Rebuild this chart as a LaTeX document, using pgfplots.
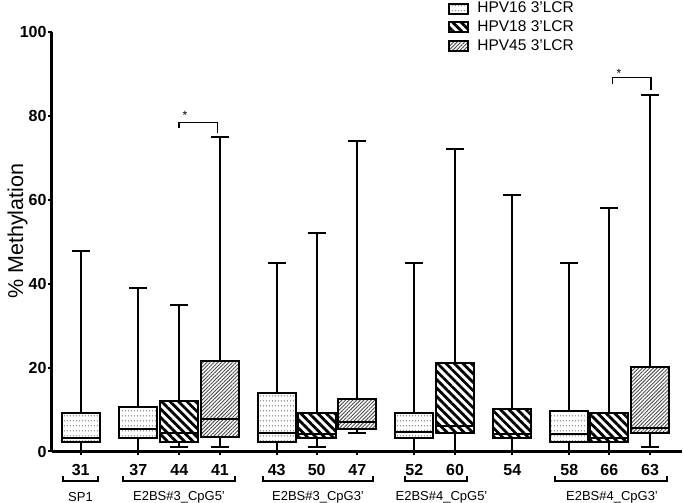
\documentclass[border=0pt]{standalone}
\usepackage{fontspec}
\setmainfont{Liberation Sans}
\usepackage{pgfplots}
\pgfplotsset{compat=1.18}
\usepgfplotslibrary{statistics}
\usetikzlibrary{patterns,patterns.meta}

\tikzdeclarepattern{
  name=hpvdots,
  type=uncolored,
  bounding box={(0pt,0pt) and (3.2pt,5pt)},
  tile size={(3.2pt,5pt)},
  code={\fill (1.6pt,2.5pt) circle (0.75pt);}
}

\pgfplotsset{
  hpv16/.style={draw=black, line width=2pt, pattern={hpvdots}, pattern color=black!60},
  hpv18/.style={draw=black, line width=2pt, pattern={Lines[angle=-45,distance=6pt,line width=2.8pt]}, pattern color=black},
  hpv45/.style={draw=black, line width=2pt, pattern={Lines[angle=45,distance=2.6pt,line width=0.9pt]}, pattern color=black!70},
  mylegend/.style={legend image code/.code={\draw[##1] (0pt,-5pt) rectangle (19pt,5pt); \path (25.5pt,0pt);}},
}

\newcommand{\bx}[7]{%
  \addplot[#1, forget plot, boxplot/draw direction=y, boxplot prepared={draw position=#2, lower whisker=#3, lower quartile=#4, median=#5, upper quartile=#6, upper whisker=#7, box extend=38, whisker extend=18}] coordinates {};
}
\newcommand{\grp}[2]{%
  \draw[line width=2pt] (axis cs:#1,-5.76) -- (axis cs:#1,-6.96) -- (axis cs:#2,-6.96) -- (axis cs:#2,-5.76);
}

\begin{document}
\begin{tikzpicture}
\useasboundingbox (0,0) rectangle (683pt,503pt);
\begin{axis}[
  at={(51.7pt,51.5pt)}, anchor=south west,
  scale only axis, width=630.3pt, height=419.8pt,
  xmin=51.7, xmax=682, ymin=0, ymax=100,
  axis lines=left,
  axis line style={-, line width=2.6pt},
  clip=false,
  tick align=outside,
  major tick length=4pt,
  tick style={line width=2pt, black},
  ytick={0,20,40,60,80,100},
  yticklabels={0,20,40,60,80,100},
  xtick={80.7,138.3,179.3,220,276.7,316.7,357.3,414.3,455,512.3,569.3,609.3,650},
  xticklabels={31,37,44,41,43,50,47,52,60,54,58,66,63},
  yticklabel style={font=\fontsize{16}{18}\selectfont\bfseries, inner sep=1pt},
  xticklabel style={font=\fontsize{16}{18}\selectfont\bfseries, inner sep=2pt, yshift=-7pt},
  ylabel={\% Methylation},
  ylabel style={font=\fontsize{21.5}{23}\selectfont, at={(axis description cs:-0.054,0.525)}, anchor=center},
  legend style={draw=none, fill=none, at={(axis description cs:0.629,1.078)}, anchor=north west,
    font=\fontsize{15.5}{17}\selectfont, row sep=0pt, inner sep=0pt,
    nodes={inner sep=1.5pt, text height=12pt, text depth=3.8pt}},
  legend cell align=left,
]
\addlegendimage{mylegend, hpv16}
\addlegendentry{HPV16 3'LCR}
\addlegendimage{mylegend, hpv18}
\addlegendentry{HPV18 3'LCR}
\addlegendimage{mylegend, hpv45}
\addlegendentry{HPV45 3'LCR}

\bx{hpv16}{80.7}{0}{2.2}{3.1}{9.2}{47.8}
\bx{hpv16}{138.3}{0}{3.1}{5.4}{10.7}{39}
\bx{hpv18}{179.3}{1.1}{2.3}{4.3}{12.1}{35}
\bx{hpv45}{220}{1.1}{3.5}{7.7}{21.5}{75}
\bx{hpv16}{276.7}{0}{2.3}{4.3}{14.0}{45}
\bx{hpv18}{316.7}{1.1}{3.1}{4.1}{9.2}{52}
\bx{hpv45}{357.3}{4.3}{5.4}{7.1}{12.4}{74}
\bx{hpv16}{414.3}{0}{3.3}{4.6}{9.2}{45}
\bx{hpv18}{455}{0}{4.3}{6.1}{21.1}{72}
\bx{hpv18}{512.3}{0}{3.1}{4.1}{10.1}{61}
\bx{hpv16}{569.3}{0}{2.3}{4.2}{9.6}{45}
\bx{hpv18}{609.3}{0}{2.2}{3.1}{9.2}{58}
\bx{hpv45}{650}{1.1}{4.3}{5.7}{20.1}{85}

% significance brackets
\draw[line width=1.6pt] (axis cs:179,77.0) -- (axis cs:179,78.4) -- (axis cs:217.3,78.4) -- (axis cs:217.3,75.8);
\node[font=\fontsize{12}{12}\selectfont] at (axis cs:185,80.0) {*};
\draw[line width=1.6pt] (axis cs:612.3,87.5) -- (axis cs:612.3,89.1) -- (axis cs:650.7,89.1) -- (axis cs:650.7,86.1);
\node[font=\fontsize{12}{12}\selectfont] at (axis cs:619,90.0) {*};

% group brackets
\grp{63.3}{98.3}
\grp{122.7}{235}
\grp{262.7}{373.3}
\grp{405}{466.7}
\grp{555}{666.7}
\node[font=\fontsize{13}{14}\selectfont] at (axis cs:80.5,-10.8) {SP1};
\node[font=\fontsize{13}{14}\selectfont] at (axis cs:179,-10.8) {E2BS\#3\_CpG5'};
\node[font=\fontsize{13}{14}\selectfont] at (axis cs:318,-10.8) {E2BS\#3\_CpG3'};
\node[font=\fontsize{13}{14}\selectfont] at (axis cs:441.5,-10.8) {E2BS\#4\_CpG5'};
\node[font=\fontsize{13}{14}\selectfont] at (axis cs:612,-10.8) {E2BS\#4\_CpG3'};
\end{axis}
\end{tikzpicture}
\end{document}
